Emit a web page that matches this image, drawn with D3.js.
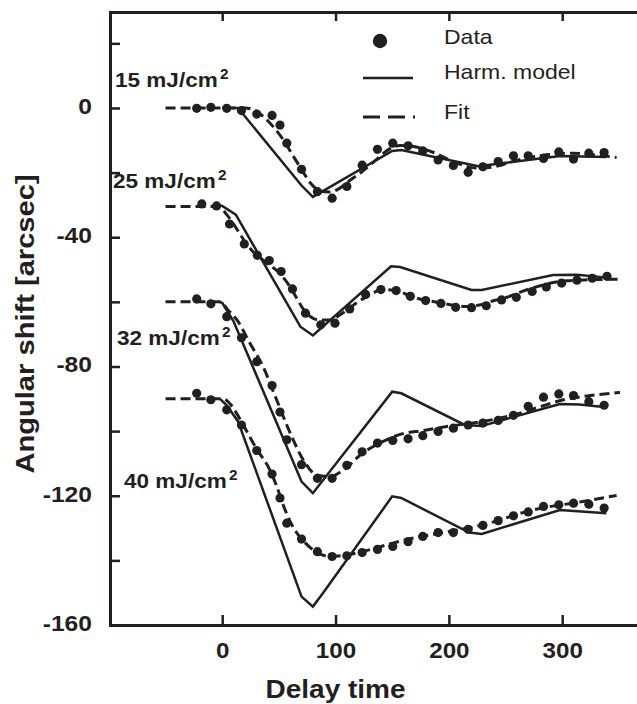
<!DOCTYPE html>
<html>
<head>
<meta charset="utf-8">
<script src="https://cdn.jsdelivr.net/npm/d3@7"></script>
<style>
  body { margin: 0; background: #fff; }
  svg { display: block; font-family: "Liberation Sans", Arial, Helvetica, sans-serif; }
</style>
</head>
<body>
<svg id="chart" width="637" height="704"></svg>
<script>
// --- values ---
// delay times of the measured points (the 25 mJ/cm2 run is sampled a bit later)
const delaysA = [-22.5, -10, 4, 17, 30.5, 44, 51, 57, 70, 84, 97, 110, 123.5, 137, 150.5,
  164, 177, 190.5, 204, 217, 230, 243.5, 257, 270, 283.5, 297, 310, 323.5, 337];
const delaysB = [-18, -5, 6.5, 19.5, 31, 41.5, 52, 62, 73.5, 87, 99.5, 112.5, 126.5, 140, 153.5,
  166, 179.5, 193, 206, 220, 233, 246.5, 259.5, 273.5, 286, 299.5, 313, 326.5, 339.5];

const shift15 = [-0.1, 0.2, -0.1, -0.8, -1.9, -2.3, -5.3, -10.9, -19, -25.9, -27.9, -24.3, -17.7, -12.8, -10.9,
  -11.7, -13.3, -16.1, -17.8, -19.9, -18.2, -16.6, -14.8, -14.8, -15.6, -13.6, -15.8, -14, -13.8];
const shift25 = [-29.7, -30.3, -35.9, -42.1, -45.6, -47.2, -50.6, -56, -63.5, -67.1, -66.6, -62.2, -57.7, -56.2, -56.5,
  -58.3, -59.6, -60.5, -61.7, -61.8, -61.2, -59.4, -58.6, -56.8, -55.4, -54.2, -53.3, -52.7, -52.1];
const shift32 = [-59.1, -60.6, -64.6, -71.1, -78.5, -85.9, -94.1, -102.7, -110.4, -114.6, -114.6, -110.6, -106.4, -103.7, -102.9,
  -102.4, -101.4, -100.1, -99.1, -98.1, -97.5, -96.7, -95.1, -92.3, -89.5, -88.5, -89, -90.9, -92];
const shift40 = [-88.3, -90.3, -93.4, -98.1, -106, -113.3, -120.7, -128.5, -133.4, -137.3, -138.8, -138.6, -137.6, -136.6, -135.7,
  -134.2, -132.6, -131.4, -131.4, -130.4, -129.2, -127.7, -126.2, -125, -123.3, -122.8, -122.3, -122.6, -123.8];

// harmonic model (solid polylines)
const harm15 = [[0, 0], [14, 0], [70, -24], [80, -27.5], [150, -13.3], [158, -13], [226, -18], [298, -14.9], [339, -15.2]];
const harm25 = [[-4, -30], [0, -30.3], [12, -33], [69, -67.7], [80, -70.4], [149, -49], [157, -49.2], [220, -56.3],
  [229, -56.3], [292, -51.7], [313, -51.6], [340, -52.5]];
const harm32 = [[-3, -60], [0, -60.3], [10, -66], [70, -115.6], [80, -119.2], [150, -87.8], [158, -88.3], [214, -98.1],
  [229, -98.4], [298, -91.6], [315, -91.8], [339, -92.6]];
const harm40 = [[-2, -90], [4, -92], [14, -97], [70, -151.2], [80, -154.3], [89, -150.1], [150, -120.2], [158, -120.7],
  [218, -131.4], [229, -131.8], [298, -124.4], [339, -125.4]];

// fit (dashed curves)
const fit15 = [[-50, 0], [20, 0], [28, -0.6], [38, -3.2], [46, -6.2], [54, -9.9], [62, -14.5], [70, -19], [78, -23.3],
  [86, -25.6], [94, -26], [102, -25.2], [112, -22.6], [124, -19.5], [136, -16], [147, -12.8], [157, -11.6], [170, -12],
  [186, -13.7], [205, -16.8], [225, -18.6], [240, -18.2], [262, -16], [286, -14.5], [310, -14], [330, -14.6], [348, -15.3]];
const fit25 = [[-50, -30.5], [-4, -30.5], [4, -33], [12, -37], [19, -40.8], [26, -44], [33, -46.2], [40, -48.2], [48, -50.3],
  [54, -52.5], [60, -55.4], [66, -59], [72, -62.5], [78, -64.6], [85, -65.6], [95, -65.6], [104, -64], [112, -62],
  [120, -60], [128, -58.3], [142, -56.2], [155, -56.7], [165, -58], [175, -59.2], [186, -59.9], [200, -60.8], [215, -61.4],
  [227, -61], [240, -59.6], [252, -58.5], [266, -56.6], [278, -55.3], [291, -54.1], [304, -53.5], [319, -53.2], [349, -53]];
const fit32 = [[-50, -60], [-2, -60], [5, -62.5], [13, -65.6], [24.5, -72.8], [36, -80], [48, -90.3], [60, -100.6],
  [71.5, -108.9], [83, -113.5], [95, -114.1], [107, -112], [124, -106.8], [142, -103.2], [157, -101], [178, -99.8],
  [198, -98.6], [230, -97], [257, -95], [280, -92.5], [301, -90.3], [325, -89], [351, -88]];
const fit40 = [[-50, -90], [1, -90], [8, -92], [16, -96.5], [30, -105.3], [42, -112], [48, -117], [54, -123], [60, -128],
  [66, -131.6], [73, -134.5], [80, -136.7], [95, -138.8], [110, -138.3], [127, -137], [148, -134.9], [170, -133],
  [192, -131.6], [230, -129], [274, -124.4], [318, -121.8], [348, -119.9]];

const fluences = ["15", "25", "32", "40"];
const legendLabels = ["Data", "Harm. model", "Fit"];
const xTicks = [0, 100, 200, 300];
const yTicks = [0, -40, -80, -120, -160];
const yMinor = [20, -20, -60, -100, -140];

// --- layout ---
const ink = "#231f20";
const labelPos = [[115, 87], [113, 188], [117, 345], [124, 488]];

const series = [
  { delays: delaysA, shift: shift15, harm: harm15, fit: fit15 },
  { delays: delaysB, shift: shift25, harm: harm25, fit: fit25 },
  { delays: delaysA, shift: shift32, harm: harm32, fit: fit32 },
  { delays: delaysA, shift: shift40, harm: harm40, fit: fit40 },
];

const svg = d3.select("#chart");
const x = d3.scaleLinear().domain([-99, 366]).range([110, 637]);
const y = d3.scaleLinear().domain([-160, 29.7]).range([625, 12]);
const plainNum = (d) => String(d); // ascii hyphen, like the original

// glyphs in the original are wider than Arial, so stretch text along its direction
function stretch(sel, k) {
  sel.each(function () {
    const t = d3.select(this);
    const x0 = +t.attr("x") || 0;
    const y0 = +t.attr("y") || 0;
    t.attr("x", 0).attr("y", 0).attr("transform", `translate(${x0},${y0}) scale(${k},1)`);
  });
}

function styleAxis(g) {
  g.select(".domain").attr("stroke", ink).attr("stroke-width", 3).attr("stroke-linecap", "square");
  g.selectAll(".tick line").attr("stroke", ink).attr("stroke-width", 2.5);
  g.selectAll(".tick text")
    .attr("fill", ink)
    .attr("font-size", 22)
    .attr("font-weight", "bold")
    .attr("font-family", "Liberation Sans, Arial, sans-serif");
}

// --- axes ---
const gLeft = svg.append("g").attr("transform", `translate(${x.range()[0]},0)`)
  .call(d3.axisLeft(y).tickValues(yTicks).tickSize(-10).tickSizeOuter(0).tickPadding(18).tickFormat(plainNum));
styleAxis(gLeft);
gLeft.selectAll(".tick text").attr("dy", "0.25em").call(stretch, 1.12);

const gMinor = svg.append("g").attr("transform", `translate(${x.range()[0]},0)`)
  .call(d3.axisLeft(y).tickValues(yMinor).tickSize(-10).tickSizeOuter(0).tickFormat(""));
styleAxis(gMinor);
gMinor.select(".domain").remove();

const gBottom = svg.append("g").attr("transform", `translate(0,${y.range()[0]})`)
  .call(d3.axisBottom(x).tickValues(xTicks).tickSize(-10).tickSizeOuter(0).tickPadding(17).tickFormat(plainNum));
styleAxis(gBottom);
gBottom.selectAll(".tick text").call(stretch, 1.1);

const gTop = svg.append("g").attr("transform", `translate(0,${y.range()[1]})`)
  .call(d3.axisTop(x).tickValues(xTicks).tickSize(-9).tickSizeOuter(0).tickFormat(""));
styleAxis(gTop);

// axis titles
svg.append("text")
  .attr("transform", `translate(${x(100)},698) scale(1.12,1)`)
  .attr("text-anchor", "middle")
  .attr("font-size", 25).attr("font-weight", "bold").attr("fill", ink)
  .text("Delay time");

svg.append("text")
  .attr("transform", `translate(34,324) rotate(-90) scale(1.12,1)`)
  .attr("text-anchor", "middle")
  .attr("font-size", 26).attr("font-weight", "bold").attr("fill", ink)
  .text("Angular shift [arcsec]");

// --- series ---
const harmLine = d3.line().x((d) => x(d[0])).y((d) => y(d[1]));
const fitLine = d3.line().x((d) => x(d[0])).y((d) => y(d[1])).curve(d3.curveMonotoneX);

series.forEach((s, i) => {
  const g = svg.append("g").attr("class", "series");

  g.append("path")
    .attr("d", harmLine(s.harm))
    .attr("fill", "none").attr("stroke", ink).attr("stroke-width", 2.5)
    .attr("stroke-linejoin", "miter");

  g.append("path")
    .attr("d", fitLine(s.fit))
    .attr("fill", "none").attr("stroke", ink).attr("stroke-width", 3)
    .attr("stroke-dasharray", "10,5");

  g.selectAll("circle")
    .data(s.delays.map((t, k) => [t, s.shift[k]]))
    .enter()
    .append("circle")
    .attr("cx", (d) => x(d[0]))
    .attr("cy", (d) => y(d[1]))
    .attr("r", 4.6)
    .attr("fill", ink);

  const label = svg.append("text")
    .attr("transform", `translate(${labelPos[i][0]},${labelPos[i][1]}) scale(1.1,1)`)
    .attr("font-size", 20.5).attr("font-weight", "bold").attr("fill", ink);
  label.append("tspan").text(`${fluences[i]} mJ/cm`);
  label.append("tspan").attr("dx", 2).attr("dy", -8).attr("font-size", 14).text("2");
});

// --- legend ---
const legend = svg.append("g").attr("class", "legend");
legend.append("circle").attr("cx", 380).attr("cy", 41).attr("r", 7.2).attr("fill", ink);
legend.append("line").attr("x1", 363).attr("x2", 413).attr("y1", 78).attr("y2", 78)
  .attr("stroke", ink).attr("stroke-width", 2.5);
legend.append("line").attr("x1", 363).attr("x2", 415).attr("y1", 117).attr("y2", 117)
  .attr("stroke", ink).attr("stroke-width", 3).attr("stroke-dasharray", "17,8");

const legendY = [44, 79, 119];
legend.selectAll("text")
  .data(legendLabels)
  .enter()
  .append("text")
  .attr("transform", (d, i) => `translate(444,${legendY[i]}) scale(1.15,1)`)
  .attr("font-size", 20).attr("fill", ink)
  .text((d) => d);
</script>
</body>
</html>
